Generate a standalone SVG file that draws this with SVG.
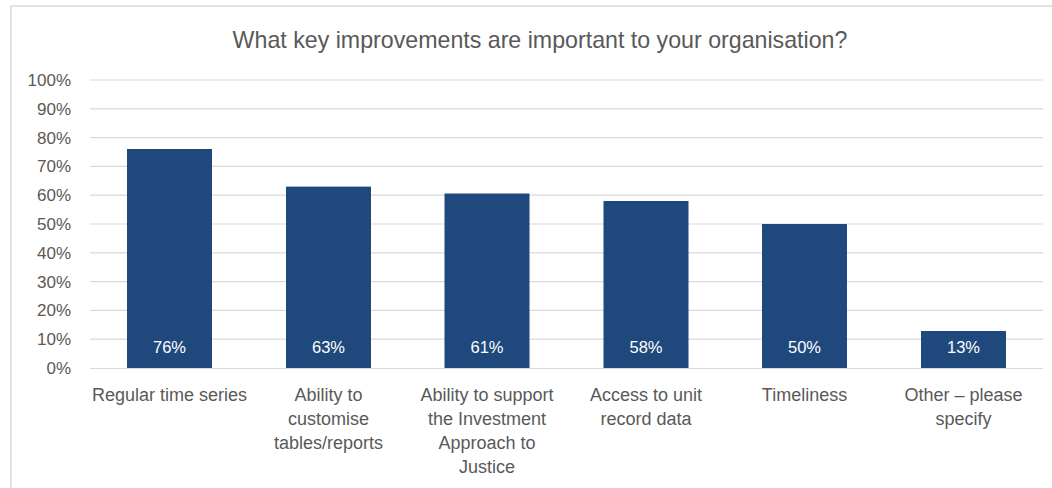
<svg xmlns="http://www.w3.org/2000/svg" width="1052" height="488" viewBox="0 0 1052 488">
<style>
text{font-family:"Liberation Sans",Arial,sans-serif;fill:#595959}
.grid{stroke:#d9d9d9;stroke-width:1.2}
.bar{fill:#1f497d}
.val{fill:#ffffff;font-size:16.5px;text-anchor:middle}
.ylab{font-size:17px;text-anchor:end}
.xlab{font-size:18px;text-anchor:middle}
</style>
<rect x="0" y="0" width="1052" height="488" fill="#ffffff"/>
<rect x="11" y="6" width="1100" height="600" fill="none" stroke="#d9d9d9" stroke-width="1.5"/>
<text x="540" y="48" font-size="23.2" text-anchor="middle">What key improvements are important to your organisation?</text>
<g id="gridlines">
<line class="grid" x1="90" y1="80" x2="1043" y2="80"/>
<line class="grid" x1="90" y1="108.8" x2="1043" y2="108.8"/>
<line class="grid" x1="90" y1="137.6" x2="1043" y2="137.6"/>
<line class="grid" x1="90" y1="166.4" x2="1043" y2="166.4"/>
<line class="grid" x1="90" y1="195.2" x2="1043" y2="195.2"/>
<line class="grid" x1="90" y1="224" x2="1043" y2="224"/>
<line class="grid" x1="90" y1="252.8" x2="1043" y2="252.8"/>
<line class="grid" x1="90" y1="281.6" x2="1043" y2="281.6"/>
<line class="grid" x1="90" y1="310.4" x2="1043" y2="310.4"/>
<line class="grid" x1="90" y1="339.2" x2="1043" y2="339.2"/>
</g>
<g id="yaxis">
<text class="ylab" x="71" y="86">100%</text>
<text class="ylab" x="71" y="114.8">90%</text>
<text class="ylab" x="71" y="143.6">80%</text>
<text class="ylab" x="71" y="172.4">70%</text>
<text class="ylab" x="71" y="201.2">60%</text>
<text class="ylab" x="71" y="230">50%</text>
<text class="ylab" x="71" y="258.8">40%</text>
<text class="ylab" x="71" y="287.6">30%</text>
<text class="ylab" x="71" y="316.4">20%</text>
<text class="ylab" x="71" y="345.2">10%</text>
<text class="ylab" x="71" y="374">0%</text>
</g>
<g id="bar1">
<rect class="bar" x="127" y="149" width="85" height="219"/>
<text class="val" x="169.5" y="353">76%</text>
<text class="xlab" x="169.5" y="401">Regular time series</text>
</g>
<g id="bar2">
<rect class="bar" x="286" y="186.6" width="85" height="181.4"/>
<text class="val" x="328.5" y="353">63%</text>
<text class="xlab" x="328.5" y="401">Ability to</text>
<text class="xlab" x="328.5" y="425">customise</text>
<text class="xlab" x="328.5" y="449">tables/reports</text>
</g>
<g id="bar3">
<rect class="bar" x="444.5" y="193.5" width="85" height="174.5"/>
<text class="val" x="487" y="353">61%</text>
<text class="xlab" x="487" y="401">Ability to support</text>
<text class="xlab" x="487" y="425">the Investment</text>
<text class="xlab" x="487" y="449">Approach to</text>
<text class="xlab" x="487" y="473">Justice</text>
</g>
<g id="bar4">
<rect class="bar" x="603.5" y="201" width="85" height="167"/>
<text class="val" x="646" y="353">58%</text>
<text class="xlab" x="646" y="401">Access to unit</text>
<text class="xlab" x="646" y="425">record data</text>
</g>
<g id="bar5">
<rect class="bar" x="762" y="224" width="85" height="144"/>
<text class="val" x="804.5" y="353">50%</text>
<text class="xlab" x="804.5" y="401">Timeliness</text>
</g>
<g id="bar6">
<rect class="bar" x="921" y="331" width="85" height="37"/>
<text class="val" x="963.5" y="353">13%</text>
<text class="xlab" x="963.5" y="401">Other – please</text>
<text class="xlab" x="963.5" y="425">specify</text>
</g>
<line class="grid" x1="90" y1="368.5" x2="1043" y2="368.5"/>
</svg>
